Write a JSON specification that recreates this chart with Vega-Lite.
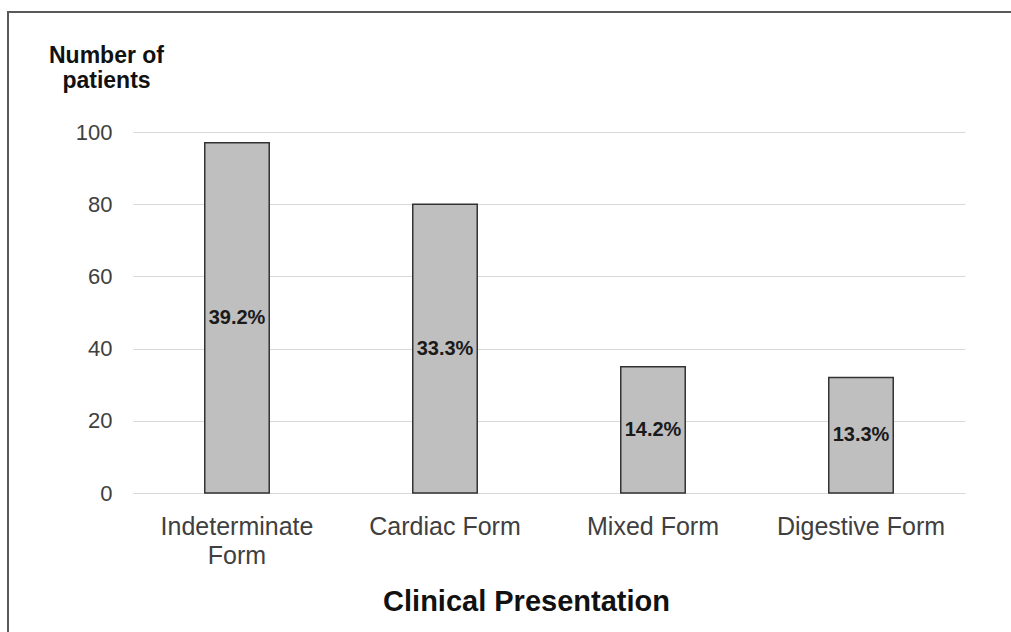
{
  "$schema": "https://vega.github.io/schema/vega-lite/v6.json",
  "width": 1004,
  "height": 621,
  "autosize": "none",
  "padding": {"left": 8, "top": 12, "right": 0, "bottom": 0},
  "background": "white",
  "config": {"view": {"stroke": "#595959", "strokeWidth": 2}, "font": "Liberation Sans"},
  "data": {"values": [
    {"form": "Indeterminate Form", "patients": 97, "pct": "39.2%"},
    {"form": "Cardiac Form", "patients": 80, "pct": "33.3%"},
    {"form": "Mixed Form", "patients": 35, "pct": "14.2%"},
    {"form": "Digestive Form", "patients": 32, "pct": "13.3%"}
  ]},
  "encoding": {
    "x": {
      "field": "form", "type": "nominal", "sort": null,
      "scale": {"range": [125, 957], "paddingInner": 0.69, "paddingOuter": 0.345},
      "axis": {
        "title": "Clinical Presentation", "orient": "bottom", "offset": -140,
        "labelAngle": 0, "ticks": false, "tickSize": 0,
        "domainColor": "#d9d9d9", "domainWidth": 1, "grid": false,
        "labelFont": "Liberation Sans", "labelFontSize": 25, "labelColor": "#404040",
        "labelPadding": 41, "labelBaseline": "alphabetic", "labelLineHeight": 29,
        "labelLimit": 400, "labelOverlap": false,
        "labelExpr": "datum.label == 'Indeterminate Form' ? ['Indeterminate','Form'] : datum.label",
        "titleFont": "Liberation Sans", "titleFontSize": 29, "titleFontWeight": "bold", "titleColor": "#111111",
        "titleX": 518, "titleY": 117, "titleAlign": "center", "titleBaseline": "alphabetic"
      }
    }
  },
  "layer": [
    {
      "mark": {"type": "bar", "fill": "#bfbfbf", "stroke": "#333333", "strokeWidth": 1.5},
      "encoding": {
        "y": {
          "field": "patients", "type": "quantitative",
          "scale": {"domain": [0, 100], "range": [481, 120], "nice": false},
          "axis": {
            "title": ["Number of", "patients"], "offset": -125,
            "grid": true, "gridColor": "#d9d9d9", "gridWidth": 1,
            "domain": false, "ticks": false, "tickSize": 0,
            "values": [0, 20, 40, 60, 80, 100],
            "labelFont": "Liberation Sans", "labelFontSize": 22, "labelColor": "#404040", "labelPadding": 21,
            "titleAngle": 0, "titleAlign": "center", "titleBaseline": "alphabetic",
            "titleX": -27, "titleY": 50, "titleFont": "Liberation Sans", "titleFontSize": 23,
            "titleFontWeight": "bold", "titleColor": "#111111", "titleLineHeight": 25
          }
        }
      }
    },
    {
      "mark": {"type": "text", "font": "Liberation Sans", "fontWeight": "bold", "fontSize": 20, "color": "#1a1a1a", "baseline": "middle"},
      "encoding": {
        "y": {"field": "patients", "type": "quantitative", "scale": {"domain": [0, 200], "range": [481, 120], "nice": false}, "axis": null},
        "text": {"field": "pct"}
      }
    }
  ],
  "resolve": {"scale": {"y": "independent"}}
}
